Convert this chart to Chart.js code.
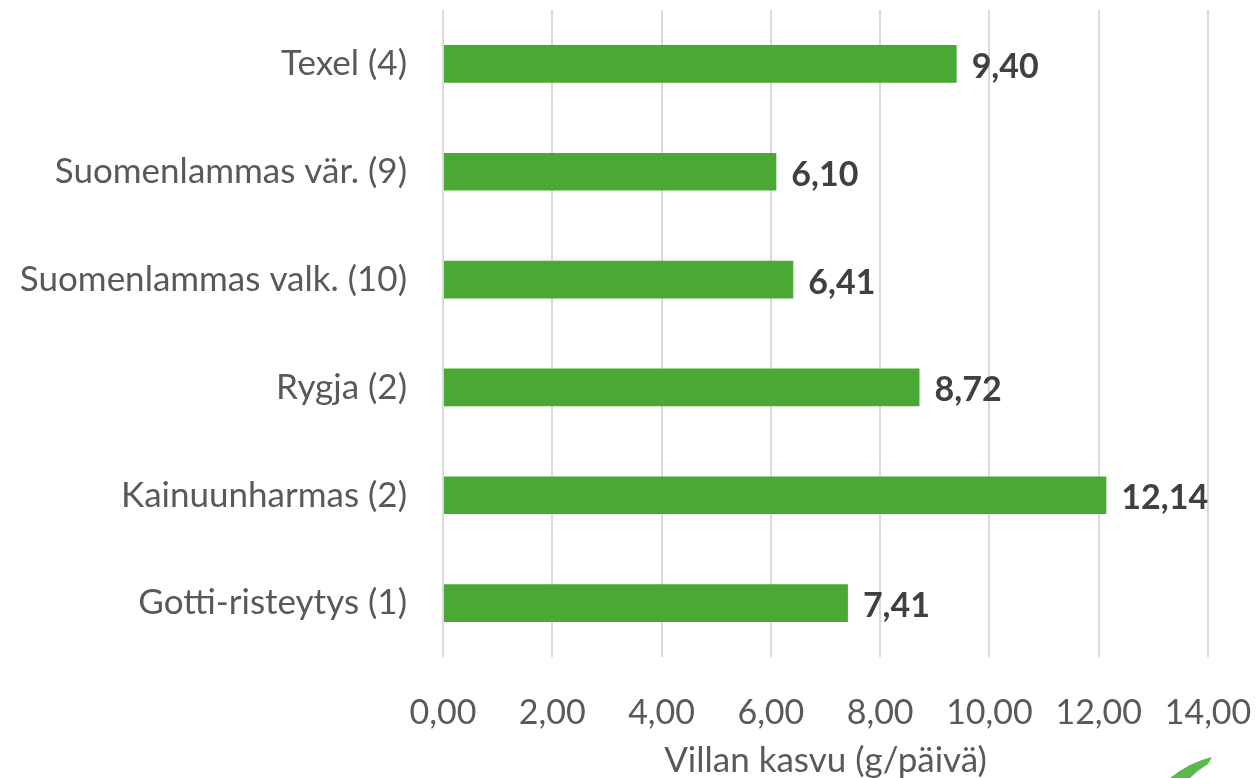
<!DOCTYPE html>
<html>
<head>
<meta charset="utf-8">
<script src="https://cdn.jsdelivr.net/npm/chart.js@4"></script>
<style>
  html, body { margin: 0; padding: 0; background: #fff; }
  #wrap { width: 1257px; height: 778px; }
</style>
</head>
<body>
<div id="wrap"><canvas id="woolChart"></canvas></div>
<script>
const breeds = ['Texel (4)', 'Suomenlammas vär. (9)', 'Suomenlammas valk. (10)', 'Rygja (2)', 'Kainuunharmas (2)', 'Gotti-risteytys (1)'];
const growth = [9.40, 6.10, 6.41, 8.72, 12.14, 7.41];
const axisTitle = 'Villan kasvu (g/päivä)';

const FONT = 'Lato, "Open Sans", sans-serif';
const fmt = v => v.toFixed(2).replace('.', ',');

// value labels at bar ends
const valueLabels = {
    id: 'valueLabels',
    afterDatasetsDraw(chart) {
        const ctx = chart.ctx;
        const meta = chart.getDatasetMeta(0);
        ctx.save();
        ctx.font = 'bold 34px ' + FONT;
        ctx.fillStyle = '#404040';
        ctx.textAlign = 'left';
        ctx.textBaseline = 'middle';
        meta.data.forEach((bar, i) => {
            ctx.fillText(fmt(growth[i]), bar.x + 15, bar.y + 3);
        });
        ctx.restore();
    }
};

// bit of the green logo cut off in the bottom right corner
const cornerLogo = {
    id: 'cornerLogo',
    afterDraw(chart) {
        const ctx = chart.ctx;
        ctx.save();
        ctx.fillStyle = '#5cb84a';
        ctx.beginPath();
        ctx.moveTo(1170, 778);
        ctx.quadraticCurveTo(1190, 762, 1212, 757);
        ctx.lineTo(1208, 764);
        ctx.quadraticCurveTo(1198, 770, 1190, 778);
        ctx.closePath();
        ctx.fill();
        ctx.restore();
    }
};

new Chart(document.getElementById('woolChart'), {
    type: 'bar',
    data: {
        labels: breeds,
        datasets: [{
            data: growth,
            backgroundColor: '#4AA935',
            barPercentage: 0.7,
            categoryPercentage: 0.5
        }]
    },
    options: {
        indexAxis: 'y',
        responsive: true,
        maintainAspectRatio: false,
        animation: false,
        layout: { padding: { top: 10, right: 0, bottom: 0, left: 0 } },
        plugins: {
            legend: { display: false },
            tooltip: { enabled: false }
        },
        scales: {
            x: {
                min: 0,
                max: 14,
                ticks: {
                    stepSize: 2,
                    color: '#595959',
                    font: { family: FONT, size: 34 },
                    padding: 36,
                    maxRotation: 0,
                    autoSkip: false,
                    callback: v => fmt(v)
                },
                grid: { color: '#d9d9d9', lineWidth: 2, drawTicks: false },
                border: { display: false },
                title: {
                    display: true,
                    text: axisTitle,
                    color: '#595959',
                    font: { family: FONT, size: 35, lineHeight: 1 },
                    padding: { top: 9, bottom: 0 }
                },
                afterFit(axis) {
                    axis.height = 121;
                    axis.paddingLeft = 0;
                    axis.paddingRight = 49;
                }
            },
            y: {
                ticks: {
                    color: '#595959',
                    font: { family: FONT, size: 35 },
                    padding: 36
                },
                grid: { display: false, drawTicks: false },
                border: { display: false },
                afterFit(axis) {
                    axis.width = 443;
                    axis.paddingTop = 0;
                    axis.paddingBottom = 0;
                }
            }
        }
    },
    plugins: [valueLabels, cornerLogo]
});
</script>
</body>
</html>
